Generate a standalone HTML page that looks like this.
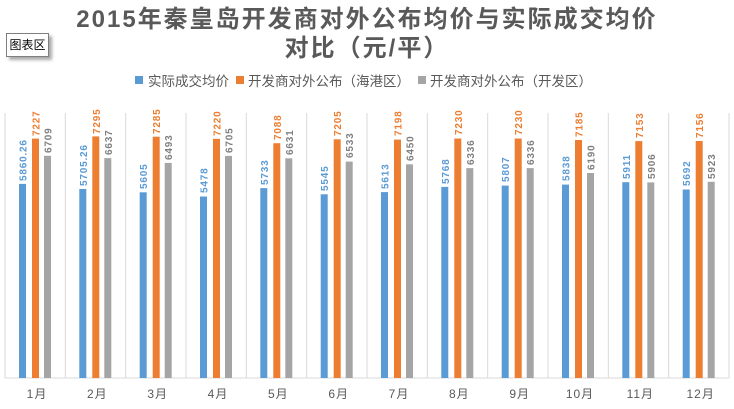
<!DOCTYPE html>
<html><head><meta charset="utf-8"><style>
body{margin:0;width:734px;height:409px;background:#fff;overflow:hidden;font-family:"Liberation Sans","Noto Sans CJK SC",sans-serif}
.box{position:absolute;left:6px;top:33px;width:41px;height:22px;border:1px solid #7f7f7f;background:#fff;box-shadow:3px 3px 3px #aaa;font-size:12px;line-height:22px;text-align:center;color:#000}
</style></head><body>
<svg width="734" height="409" style="position:absolute;left:0;top:0" font-family="Liberation Sans, Noto Sans CJK SC, sans-serif">
<text x="367" y="27" text-anchor="middle" font-size="24" font-weight="bold" fill="#595959" letter-spacing="2">2015年秦皇岛开发商对外公布均价与实际成交均价</text>
<text x="367" y="56" text-anchor="middle" font-size="24" font-weight="bold" fill="#595959" letter-spacing="2">对比（元/平）</text>
<g font-size="13.5" fill="#595959">
<rect x="135" y="76" width="8" height="8" fill="#5b9bd5"/><text x="148" y="86">实际成交均价</text>
<rect x="236" y="76" width="8" height="8" fill="#ed7d31"/><text x="248" y="86">开发商对外公布（海港区）</text>
<rect x="418" y="76" width="8" height="8" fill="#a5a5a5"/><text x="430" y="86">开发商对外公布（开发区）</text>
</g>
<g stroke="#d9d9d9" stroke-width="1">
<line x1="5" y1="113" x2="5" y2="378"/><line x1="65.3" y1="113" x2="65.3" y2="378"/><line x1="125.7" y1="113" x2="125.7" y2="378"/><line x1="186" y1="113" x2="186" y2="378"/><line x1="246.3" y1="113" x2="246.3" y2="378"/><line x1="306.7" y1="113" x2="306.7" y2="378"/><line x1="367" y1="113" x2="367" y2="378"/><line x1="427.3" y1="113" x2="427.3" y2="378"/><line x1="487.7" y1="113" x2="487.7" y2="378"/><line x1="548" y1="113" x2="548" y2="378"/><line x1="608.3" y1="113" x2="608.3" y2="378"/><line x1="668.7" y1="113" x2="668.7" y2="378"/><line x1="729" y1="113" x2="729" y2="378"/>
<line x1="5" y1="378" x2="729" y2="378"/>
</g>
<g font-size="10" font-weight="bold" letter-spacing="0.8">
<g transform="translate(5,0)">
<rect x="14" y="183.9" width="7" height="194.1" fill="#5b9bd5"/><rect x="27" y="138.6" width="7" height="239.4" fill="#ed7d31"/><rect x="39" y="155.8" width="7" height="222.2" fill="#a5a5a5"/>
<text transform="translate(21.5,181) rotate(-90)" fill="#5b9bd5">5860.26</text><text transform="translate(34.5,136) rotate(-90)" fill="#ed7d31">7227</text><text transform="translate(46.5,153) rotate(-90)" fill="#7f7f7f">6709</text>
<text x="32" y="398" font-weight="normal" font-size="12" fill="#595959" text-anchor="middle" letter-spacing="1">1月</text></g>
<g transform="translate(65.3,0)">
<rect x="14" y="189" width="7" height="189" fill="#5b9bd5"/><rect x="27" y="136.4" width="7" height="241.6" fill="#ed7d31"/><rect x="39" y="158.1" width="7" height="219.9" fill="#a5a5a5"/>
<text transform="translate(21.5,186) rotate(-90)" fill="#5b9bd5">5705.26</text><text transform="translate(34.5,134) rotate(-90)" fill="#ed7d31">7295</text><text transform="translate(46.5,155) rotate(-90)" fill="#7f7f7f">6637</text>
<text x="32" y="398" font-weight="normal" font-size="12" fill="#595959" text-anchor="middle" letter-spacing="1">2月</text></g>
<g transform="translate(125.7,0)">
<rect x="14" y="192.3" width="7" height="185.7" fill="#5b9bd5"/><rect x="27" y="136.7" width="7" height="241.3" fill="#ed7d31"/><rect x="39" y="162.9" width="7" height="215.1" fill="#a5a5a5"/>
<text transform="translate(21.5,189) rotate(-90)" fill="#5b9bd5">5605</text><text transform="translate(34.5,134) rotate(-90)" fill="#ed7d31">7285</text><text transform="translate(46.5,160) rotate(-90)" fill="#7f7f7f">6493</text>
<text x="32" y="398" font-weight="normal" font-size="12" fill="#595959" text-anchor="middle" letter-spacing="1">3月</text></g>
<g transform="translate(186,0)">
<rect x="14" y="196.5" width="7" height="181.5" fill="#5b9bd5"/><rect x="27" y="138.8" width="7" height="239.2" fill="#ed7d31"/><rect x="39" y="155.9" width="7" height="222.1" fill="#a5a5a5"/>
<text transform="translate(21.5,193) rotate(-90)" fill="#5b9bd5">5478</text><text transform="translate(34.5,136) rotate(-90)" fill="#ed7d31">7220</text><text transform="translate(46.5,153) rotate(-90)" fill="#7f7f7f">6705</text>
<text x="32" y="398" font-weight="normal" font-size="12" fill="#595959" text-anchor="middle" letter-spacing="1">4月</text></g>
<g transform="translate(246.3,0)">
<rect x="14" y="188.1" width="7" height="189.9" fill="#5b9bd5"/><rect x="27" y="143.2" width="7" height="234.8" fill="#ed7d31"/><rect x="39" y="158.3" width="7" height="219.7" fill="#a5a5a5"/>
<text transform="translate(21.5,185) rotate(-90)" fill="#5b9bd5">5733</text><text transform="translate(34.5,140) rotate(-90)" fill="#ed7d31">7088</text><text transform="translate(46.5,155) rotate(-90)" fill="#7f7f7f">6631</text>
<text x="32" y="398" font-weight="normal" font-size="12" fill="#595959" text-anchor="middle" letter-spacing="1">5月</text></g>
<g transform="translate(306.7,0)">
<rect x="14" y="194.3" width="7" height="183.7" fill="#5b9bd5"/><rect x="27" y="139.3" width="7" height="238.7" fill="#ed7d31"/><rect x="39" y="161.6" width="7" height="216.4" fill="#a5a5a5"/>
<text transform="translate(21.5,191) rotate(-90)" fill="#5b9bd5">5545</text><text transform="translate(34.5,136) rotate(-90)" fill="#ed7d31">7205</text><text transform="translate(46.5,158) rotate(-90)" fill="#7f7f7f">6533</text>
<text x="32" y="398" font-weight="normal" font-size="12" fill="#595959" text-anchor="middle" letter-spacing="1">6月</text></g>
<g transform="translate(367,0)">
<rect x="14" y="192.1" width="7" height="185.9" fill="#5b9bd5"/><rect x="27" y="139.6" width="7" height="238.4" fill="#ed7d31"/><rect x="39" y="164.3" width="7" height="213.7" fill="#a5a5a5"/>
<text transform="translate(21.5,189) rotate(-90)" fill="#5b9bd5">5613</text><text transform="translate(34.5,136) rotate(-90)" fill="#ed7d31">7198</text><text transform="translate(46.5,161) rotate(-90)" fill="#7f7f7f">6450</text>
<text x="32" y="398" font-weight="normal" font-size="12" fill="#595959" text-anchor="middle" letter-spacing="1">7月</text></g>
<g transform="translate(427.3,0)">
<rect x="14" y="186.9" width="7" height="191.1" fill="#5b9bd5"/><rect x="27" y="138.5" width="7" height="239.5" fill="#ed7d31"/><rect x="39" y="168.1" width="7" height="209.9" fill="#a5a5a5"/>
<text transform="translate(21.5,184) rotate(-90)" fill="#5b9bd5">5768</text><text transform="translate(34.5,135) rotate(-90)" fill="#ed7d31">7230</text><text transform="translate(46.5,165) rotate(-90)" fill="#7f7f7f">6336</text>
<text x="32" y="398" font-weight="normal" font-size="12" fill="#595959" text-anchor="middle" letter-spacing="1">8月</text></g>
<g transform="translate(487.7,0)">
<rect x="14" y="185.6" width="7" height="192.4" fill="#5b9bd5"/><rect x="27" y="138.5" width="7" height="239.5" fill="#ed7d31"/><rect x="39" y="168.1" width="7" height="209.9" fill="#a5a5a5"/>
<text transform="translate(21.5,182) rotate(-90)" fill="#5b9bd5">5807</text><text transform="translate(34.5,135) rotate(-90)" fill="#ed7d31">7230</text><text transform="translate(46.5,165) rotate(-90)" fill="#7f7f7f">6336</text>
<text x="32" y="398" font-weight="normal" font-size="12" fill="#595959" text-anchor="middle" letter-spacing="1">9月</text></g>
<g transform="translate(548,0)">
<rect x="14" y="184.6" width="7" height="193.4" fill="#5b9bd5"/><rect x="27" y="140" width="7" height="238" fill="#ed7d31"/><rect x="39" y="173" width="7" height="205" fill="#a5a5a5"/>
<text transform="translate(21.5,181) rotate(-90)" fill="#5b9bd5">5838</text><text transform="translate(34.5,137) rotate(-90)" fill="#ed7d31">7185</text><text transform="translate(46.5,170) rotate(-90)" fill="#7f7f7f">6190</text>
<text x="32" y="398" font-weight="normal" font-size="12" fill="#595959" text-anchor="middle" letter-spacing="1">10月</text></g>
<g transform="translate(608.3,0)">
<rect x="14" y="182.2" width="7" height="195.8" fill="#5b9bd5"/><rect x="27" y="141.1" width="7" height="236.9" fill="#ed7d31"/><rect x="39" y="182.4" width="7" height="195.6" fill="#a5a5a5"/>
<text transform="translate(21.5,179) rotate(-90)" fill="#5b9bd5">5911</text><text transform="translate(34.5,138) rotate(-90)" fill="#ed7d31">7153</text><text transform="translate(46.5,179) rotate(-90)" fill="#7f7f7f">5906</text>
<text x="32" y="398" font-weight="normal" font-size="12" fill="#595959" text-anchor="middle" letter-spacing="1">11月</text></g>
<g transform="translate(668.7,0)">
<rect x="14" y="189.5" width="7" height="188.5" fill="#5b9bd5"/><rect x="27" y="141" width="7" height="237" fill="#ed7d31"/><rect x="39" y="181.8" width="7" height="196.2" fill="#a5a5a5"/>
<text transform="translate(21.5,186) rotate(-90)" fill="#5b9bd5">5692</text><text transform="translate(34.5,138) rotate(-90)" fill="#ed7d31">7156</text><text transform="translate(46.5,179) rotate(-90)" fill="#7f7f7f">5923</text>
<text x="32" y="398" font-weight="normal" font-size="12" fill="#595959" text-anchor="middle" letter-spacing="1">12月</text></g>
</g>
</svg>
<div class="box">图表区</div>
</body></html>
